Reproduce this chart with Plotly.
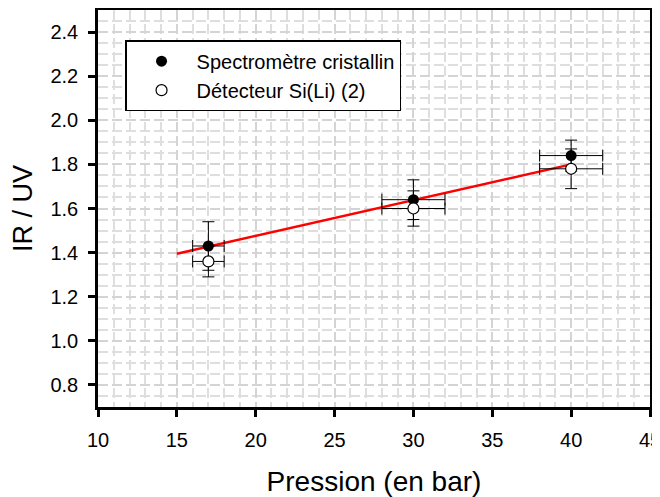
import plotly.graph_objects as go

# measured points
pression = [17, 30, 40]
pression_err = [1, 2, 2]

spectro = [1.43, 1.64, 1.84]
spectro_err = [0.11, 0.09, 0.07]

sili = [1.36, 1.60, 1.78]
sili_err = [0.07, 0.08, 0.09]

# linear fit
fit_x = [15, 40]
fit_y = [1.395, 1.80]

fig = go.Figure()

fig.add_trace(go.Scatter(
    x=fit_x, y=fit_y, mode='lines',
    line=dict(color='red', width=2.5),
    showlegend=False, hoverinfo='skip'))

fig.add_trace(go.Scatter(
    x=pression, y=spectro, mode='markers',
    name='Spectromètre cristallin',
    marker=dict(color='black', size=11, symbol='circle'),
    error_x=dict(type='data', array=pression_err, color='black', thickness=1, width=6),
    error_y=dict(type='data', array=spectro_err, color='black', thickness=1, width=6)))

fig.add_trace(go.Scatter(
    x=pression, y=sili, mode='markers',
    name='Détecteur Si(Li) (2)',
    marker=dict(color='white', size=11, symbol='circle',
                line=dict(color='black', width=1.2)),
    error_x=dict(type='data', array=pression_err, color='black', thickness=1, width=6),
    error_y=dict(type='data', array=sili_err, color='black', thickness=1, width=6)))

dash = '10px,4px'
common = dict(
    ticks='outside', ticklen=7, tickwidth=2.5, tickcolor='black',
    showline=True, linecolor='black', linewidth=2.5, mirror=True,
    zeroline=False, automargin=False,
    tickfont=dict(size=20), ticklabelstandoff=6, ticklabeloverflow='allow',
    showgrid=True, gridcolor='#d4d4d4', gridwidth=1.5, griddash=dash)

fig.update_xaxes(
    range=[10, 45], dtick=5, tick0=10,
    minor=dict(dtick=1, gridcolor='#dedede', gridwidth=1.5, griddash=dash, showgrid=True),
    title=dict(text='Pression (en bar)', font=dict(size=28), standoff=22),
    **common)

fig.update_yaxes(
    range=[0.7, 2.5], dtick=0.2, tick0=0.8, tickformat='.1f',
    minor=dict(dtick=0.05, gridcolor='#dedede', gridwidth=1.5, griddash=dash, showgrid=True),
    title=dict(text='IR / UV', font=dict(size=27), standoff=12),
    **common)

# page body adds an 8px offset, so the figure is sized to fit the window
fig.update_layout(
    width=652, height=489,
    margin=dict(l=90, r=10, t=2, b=90),
    paper_bgcolor='white', plot_bgcolor='white',
    font=dict(family='Liberation Sans, Arial, sans-serif', size=18, color='black'),
    legend=dict(x=0.049, y=0.924, xanchor='left', yanchor='top',
                bgcolor='white', bordercolor='black', borderwidth=1.5,
                font=dict(size=20), tracegroupgap=0, itemwidth=60))

fig.write_html("out.html")
